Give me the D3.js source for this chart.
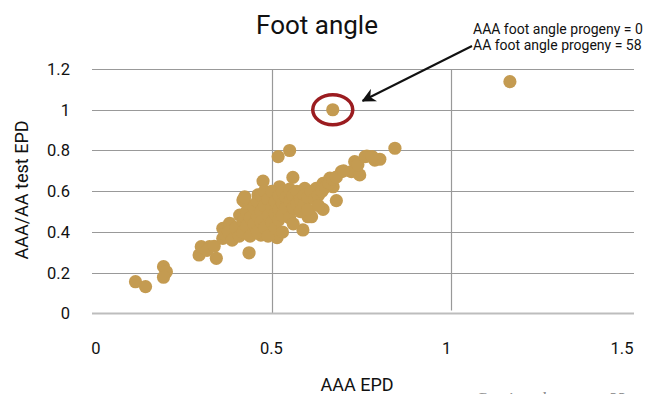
<!DOCTYPE html>
<html>
<head>
<meta charset="utf-8">
<script src="https://cdn.jsdelivr.net/npm/d3@7"></script>
<style>
  html, body { margin: 0; padding: 0; background: #fff; overflow: hidden; }
  svg { display: block; }
</style>
</head>
<body>
<div id="chart"></div>
<script>
// ---------- data ----------
const chartTitle = "Foot angle";
const xTitle = "AAA EPD";
const yTitle = "AAA/AA test EPD";
const xTicks = [0, 0.5, 1, 1.5];
const yTicks = [0, 0.2, 0.4, 0.6, 0.8, 1, 1.2];
const annotationLines = ["AAA foot angle progeny = 0", "AA foot angle progeny = 58"];
const highlightPoint = [0.67, 1.0];
const footerText = "Continued on page 33";

// AAA EPD (x) and AAA/AA test EPD (y)
const xValues = [
  0.121, 0.149, 0.199, 0.207, 0.199,
  0.298, 0.304, 0.327, 0.346, 0.32, 0.34,
  0.364, 0.364, 0.374, 0.383, 0.37,
  0.425, 0.42, 0.425, 0.411, 0.437,
  0.462, 0.476, 0.518, 0.55, 0.522, 0.559,
  0.49, 0.515, 0.47,
  0.587, 0.601, 0.606, 0.611, 0.643, 0.68, 0.615, 0.624, 0.592, 0.643,
  0.662, 0.671, 0.694, 0.722, 0.745, 0.731, 0.765, 0.787, 0.801, 0.843,
  0.67, 1.163,
  0.38, 0.39, 0.40, 0.41, 0.42, 0.42, 0.43, 0.43, 0.44, 0.44,
  0.45, 0.45, 0.46, 0.46, 0.46, 0.47, 0.47, 0.47, 0.48, 0.48,
  0.48, 0.49, 0.49, 0.49, 0.50, 0.50, 0.50, 0.51, 0.51, 0.51,
  0.52, 0.52, 0.52, 0.53, 0.53, 0.53, 0.53, 0.54, 0.54, 0.55,
  0.55, 0.55, 0.56, 0.56, 0.56, 0.57, 0.57, 0.58, 0.58, 0.59,
  0.59, 0.60, 0.60, 0.61, 0.62, 0.63, 0.63, 0.64, 0.65, 0.66,
  0.67, 0.68, 0.70, 0.74, 0.76, 0.78
];
const yValues = [
  0.156, 0.132, 0.23, 0.205, 0.178,
  0.287, 0.328, 0.328, 0.271, 0.31, 0.33,
  0.369, 0.418, 0.418, 0.443, 0.39,
  0.549, 0.557, 0.573, 0.483, 0.298,
  0.582, 0.65, 0.77, 0.80, 0.622, 0.668,
  0.426, 0.372, 0.385,
  0.41, 0.475, 0.483, 0.475, 0.511, 0.554, 0.598, 0.614, 0.614, 0.639,
  0.664, 0.622, 0.696, 0.696, 0.68, 0.745, 0.773, 0.753, 0.757, 0.811,
  1.0, 1.138,
  0.40, 0.36, 0.42, 0.38, 0.45, 0.40, 0.50, 0.43, 0.47, 0.38,
  0.52, 0.44, 0.55, 0.48, 0.40, 0.58, 0.50, 0.45, 0.53, 0.42,
  0.60, 0.56, 0.48, 0.38, 0.52, 0.45, 0.60, 0.55, 0.49, 0.42,
  0.58, 0.51, 0.46, 0.60, 0.54, 0.48, 0.40, 0.57, 0.52, 0.61,
  0.55, 0.47, 0.58, 0.52, 0.44, 0.60, 0.54, 0.56, 0.50, 0.58,
  0.53, 0.57, 0.51, 0.60, 0.56, 0.58, 0.53, 0.60, 0.62, 0.64,
  0.66, 0.67, 0.70, 0.73, 0.77, 0.77
];

// ---------- layout ----------
const W = 653, H = 394;
const pointColor = "#c49b51";
const gridColor = "#999999";

const x = d3.scaleLinear().domain([0, 1.5]).range([92, 631]);
const xLabel = d3.scaleLinear().domain([0, 1.5]).range([96, 622]);
const y = d3.scaleLinear().domain([0, 1.2]).range([313.5, 69]);

const svg = d3.select("#chart").append("svg")
  .attr("width", W).attr("height", H)
  .style("font-family", "Roboto, 'Liberation Sans', Arial, sans-serif");

// horizontal grid lines
svg.append("g").selectAll("line").data(yTicks.filter(d => d > 0)).join("line")
  .attr("x1", x(0)).attr("x2", x(1.5) + 3)
  .attr("y1", d => Math.round(y(d)) + 0.5).attr("y2", d => Math.round(y(d)) + 0.5)
  .attr("stroke", gridColor).attr("stroke-width", 1.2);

// vertical grid lines
svg.append("g").selectAll("line").data(xTicks.filter(d => d > 0 && d < 1.5)).join("line")
  .attr("x1", d => Math.round(x(d)) + 0.5).attr("x2", d => Math.round(x(d)) + 0.5)
  .attr("y1", y(1.2)).attr("y2", d => d === 1 ? y(0) - 3 : y(0))
  .attr("stroke", gridColor).attr("stroke-width", 1.2);

// baseline
svg.append("line")
  .attr("x1", x(0)).attr("x2", x(1.5) + 3)
  .attr("y1", y(0)).attr("y2", y(0))
  .attr("stroke", "#bdbdbd").attr("stroke-width", 2);

// y tick labels
svg.append("g").selectAll("text").data(yTicks).join("text")
  .attr("x", 70).attr("y", d => y(d))
  .attr("dy", "0.36em")
  .attr("text-anchor", "end")
  .attr("font-size", 16.5).attr("fill", "#111")
  .text(d => d3.format("")(d));

// x tick labels
svg.append("g").selectAll("text").data(xTicks).join("text")
  .attr("x", d => xLabel(d)).attr("y", 354)
  .attr("text-anchor", "middle")
  .attr("font-size", 16.5).attr("fill", "#111")
  .text(d => d3.format("")(d));

// titles
svg.append("text").attr("x", 317).attr("y", 34)
  .attr("text-anchor", "middle").attr("font-size", 26).attr("fill", "#111")
  .text(chartTitle);
svg.append("text").attr("x", 357).attr("y", 391)
  .attr("text-anchor", "middle").attr("font-size", 18).attr("fill", "#111")
  .text(xTitle);
svg.append("text")
  .attr("transform", "translate(28,190) rotate(-90)")
  .attr("text-anchor", "middle").attr("font-size", 18).attr("fill", "#111")
  .text(yTitle);

// points
const pts = xValues.map((v, i) => [v, yValues[i]]);
svg.append("g").selectAll("circle").data(pts).join("circle")
  .attr("cx", d => x(d[0])).attr("cy", d => y(d[1]))
  .attr("r", 6.6).attr("fill", pointColor);

// highlight ellipse
svg.append("ellipse")
  .attr("cx", x(highlightPoint[0])).attr("cy", y(highlightPoint[1]))
  .attr("rx", 20).attr("ry", 15)
  .attr("fill", "none").attr("stroke", "#9b1c20").attr("stroke-width", 3.5);

// arrow
svg.append("defs").append("marker")
  .attr("id", "arrow").attr("viewBox", "0 0 10 10")
  .attr("refX", 9).attr("refY", 5)
  .attr("markerWidth", 7).attr("markerHeight", 7)
  .attr("orient", "auto")
  .append("path").attr("d", "M0,0 L10,5 L0,10 L3,5 Z").attr("fill", "#111");
svg.append("line")
  .attr("x1", 472).attr("y1", 46)
  .attr("x2", x(highlightPoint[0]) + 30).attr("y2", y(highlightPoint[1]) - 9)
  .attr("stroke", "#111").attr("stroke-width", 2)
  .attr("marker-end", "url(#arrow)");

// annotation
svg.append("g").selectAll("text").data(annotationLines).join("text")
  .attr("x", 473).attr("y", (d, i) => 34 + i * 16)
  .attr("font-size", 14).attr("fill", "#111")
  .text(d => d);

// footer (cut off at the bottom edge, as in the reference)
svg.append("text").attr("x", 475).attr("y", 404)
  .attr("font-family", "'Liberation Serif', 'DejaVu Serif', serif")
  .attr("font-style", "italic").attr("font-size", 17).attr("fill", "#888")
  .text(footerText);
</script>
</body>
</html>
